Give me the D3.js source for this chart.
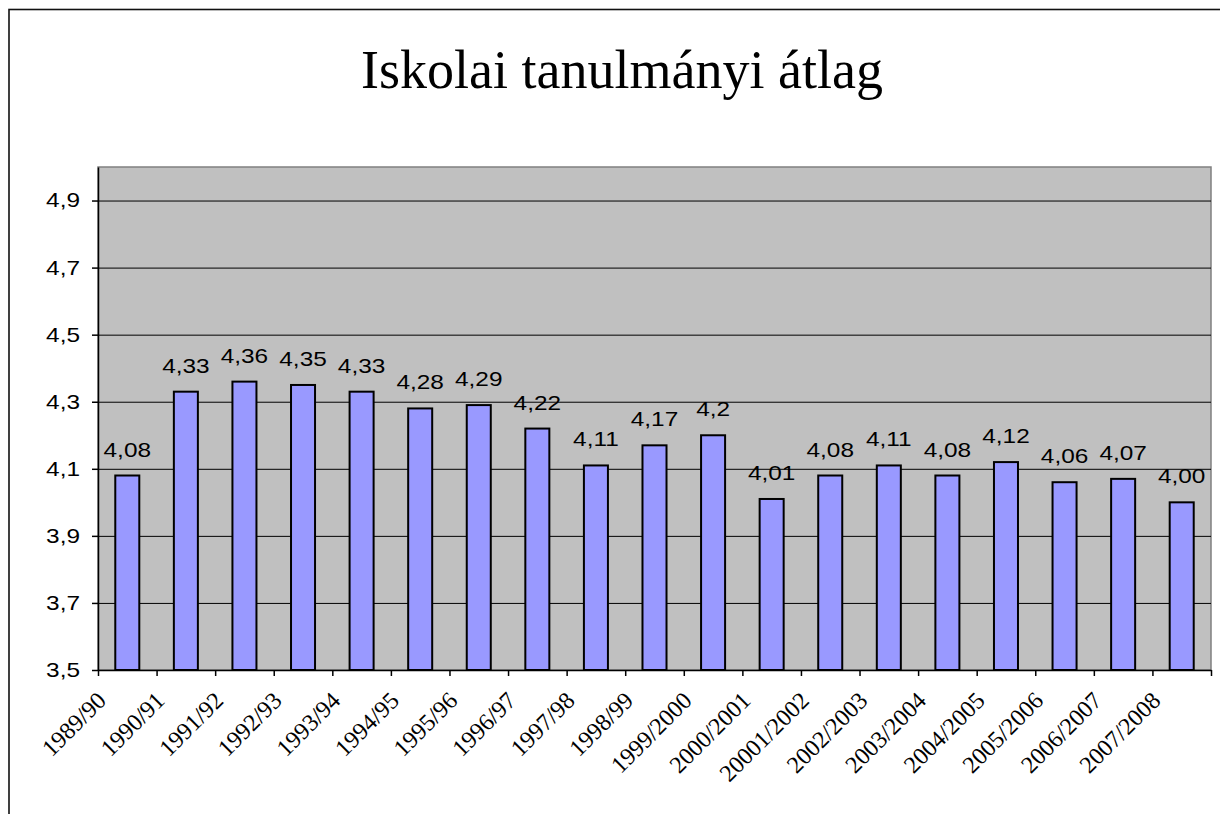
<!DOCTYPE html>
<html>
<head>
<meta charset="utf-8">
<script src="https://cdn.jsdelivr.net/npm/d3@7"></script>
<style>
  body { margin: 0; background: #fff; }
</style>
</head>
<body>
<div id="grafico"></div>
<script>
const categories = ["1989/90", "1990/91", "1991/92", "1992/93", "1993/94", "1994/95", "1995/96",
                    "1996/97", "1997/98", "1998/99", "1999/2000", "2000/2001", "20001/2002",
                    "2002/2003", "2003/2004", "2004/2005", "2005/2006", "2006/2007", "2007/2008"];
const values = [4.08, 4.33, 4.36, 4.35, 4.33, 4.28, 4.29, 4.22, 4.11, 4.17, 4.20,
                4.01, 4.08, 4.11, 4.08, 4.12, 4.06, 4.07, 4.00];
const valueLabels = ["4,08", "4,33", "4,36", "4,35", "4,33", "4,28", "4,29", "4,22", "4,11", "4,17", "4,2",
                     "4,01", "4,08", "4,11", "4,08", "4,12", "4,06", "4,07", "4,00"];
const yTicks = [3.5, 3.7, 3.9, 4.1, 4.3, 4.5, 4.7, 4.9];
const title = "Iskolai tanulmányi átlag";

const plot = { left: 98, right: 1211, top: 167, bottom: 670 };
const stretch = 1.22;   // the original labels are wider than plain Arial

const svg = d3.select("#grafico")
              .append("svg")
              .attr("width", 1220)
              .attr("height", 814);

// outer chart frame (runs off the picture on the right and bottom)
svg.append("rect")
   .attr("x", 9).attr("y", 9.5)
   .attr("width", 1400).attr("height", 1000)
   .attr("fill", "none")
   .attr("stroke", "#111")
   .attr("stroke-width", 1.6);

svg.append("text")
   .attr("x", 622).attr("y", 88)
   .attr("text-anchor", "middle")
   .style("font-family", "'Liberation Serif', 'Times New Roman', serif")
   .style("font-size", "54px")
   .attr("fill", "#000")
   .text(title);

const yScale = d3.scaleLinear()
                 .domain([3.5, 5.0])
                 .range([plot.bottom, plot.top]);

const xScale = d3.scaleBand()
                 .domain(categories)
                 .range([plot.left, plot.right])
                 .paddingInner(0.59)
                 .paddingOuter(0.295);

const xTick = d3.scaleLinear()
                .domain([0, categories.length])
                .range([plot.left, plot.right]);

// plot area
svg.append("rect")
   .attr("x", plot.left).attr("y", plot.top)
   .attr("width", plot.right - plot.left)
   .attr("height", plot.bottom - plot.top)
   .attr("fill", "#c0c0c0")
   .attr("stroke", "#808080")
   .attr("stroke-width", 1.5);

// gridlines
svg.append("g")
   .attr("transform", `translate(${plot.left}, 0)`)
   .call(d3.axisLeft(yScale).tickValues(yTicks).tickSize(-(plot.right - plot.left)).tickFormat(""))
   .call(g => g.select(".domain").remove())
   .selectAll("line")
   .attr("stroke", "#000")
   .attr("stroke-width", 1);

svg.selectAll("rect.bar")
   .data(values)
   .join("rect")
   .attr("class", "bar")
   .attr("x", (d, i) => xScale(categories[i]))
   .attr("width", xScale.bandwidth())
   .attr("y", d => yScale(d))
   .attr("height", d => yScale(3.5) - yScale(d))
   .attr("fill", "#9999ff")
   .attr("stroke", "#000")
   .attr("stroke-width", 2);

svg.selectAll("text.val")
   .data(values)
   .join("text")
   .attr("class", "val")
   .attr("transform", (d, i) => `translate(${xScale(categories[i]) + xScale.bandwidth() / 2}, ${yScale(d) - 19}) scale(${stretch}, 1)`)
   .attr("text-anchor", "middle")
   .style("font-family", "'Liberation Sans', Arial, sans-serif")
   .style("font-size", "20px")
   .attr("fill", "#000")
   .text((d, i) => valueLabels[i]);

// y axis
const yAxis = svg.append("g")
   .attr("transform", `translate(${plot.left}, 0)`)
   .call(d3.axisLeft(yScale).tickValues(yTicks).tickSizeOuter(0)
           .tickFormat(d => d3.format(".1f")(d).replace(".", ",")));
yAxis.select(".domain").attr("stroke", "#000").attr("stroke-width", 1.5);
yAxis.selectAll(".tick line").attr("x2", -6).attr("stroke", "#000").attr("stroke-width", 1.5);
yAxis.selectAll(".tick text")
     .attr("x", null)
     .attr("transform", `translate(-18, 0) scale(${stretch}, 1)`)
     .style("font-family", "'Liberation Sans', Arial, sans-serif")
     .style("font-size", "20px")
     .attr("fill", "#000");

// x axis, labels sit on the left tick of each band
const xAxis = svg.append("g")
   .attr("transform", `translate(0, ${plot.bottom})`)
   .call(d3.axisBottom(xTick).tickValues(d3.range(categories.length + 1)).tickSizeOuter(0)
           .tickFormat(i => categories[i] || ""));
xAxis.select(".domain").attr("stroke", "#000").attr("stroke-width", 1.5);
xAxis.selectAll(".tick line").attr("y2", 6).attr("stroke", "#000").attr("stroke-width", 1.5);
xAxis.selectAll(".tick text")
     .attr("x", 0).attr("y", 0).attr("dy", 0)
     .attr("text-anchor", "end")
     .attr("transform", "translate(9, 32) rotate(-45)")
     .style("font-family", "'Liberation Serif', 'Times New Roman', serif")
     .style("font-size", "24px")
     .attr("fill", "#000");
</script>
</body>
</html>
